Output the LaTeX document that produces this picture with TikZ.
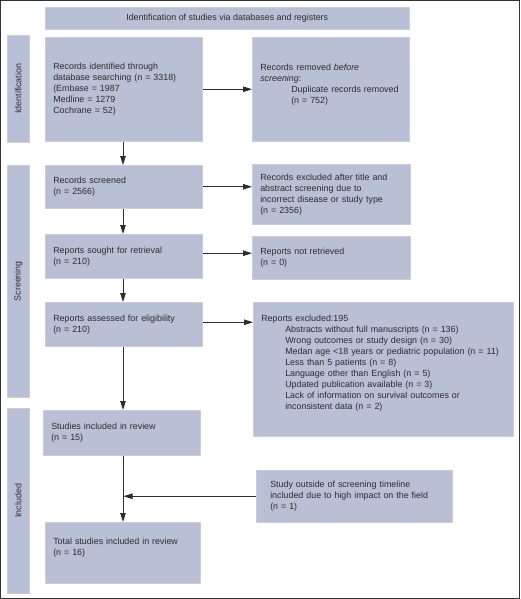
\documentclass[tikz,border=0pt]{standalone}
\usepackage{fontspec}
\setmainfont{Liberation Sans}
\usetikzlibrary{arrows.meta}
\definecolor{boxfill}{RGB}{185,192,214}
\definecolor{boxedge}{RGB}{200,206,224}
\definecolor{ink}{RGB}{45,45,45}
\definecolor{frame}{RGB}{50,50,50}
\tikzset{
  box/.style={fill=boxfill, draw=boxedge, line width=0.5pt, anchor=north west,
    inner xsep=8pt, inner ysep=0pt, align=left, text=ink,
    font=\fontsize{8.9}{11}\selectfont},
  sidebar/.style={fill=boxfill, draw=boxedge, line width=0.5pt, anchor=north west,
    inner sep=0pt, text=ink, font=\fontsize{8.9}{11}\selectfont},
  arr/.style={draw=ink, line width=0.8pt, -{Triangle[length=9pt,width=5.5pt]}},
}
\newcommand{\bx}[6]{% name, x, y, w, h, text
  \node[box, minimum width=#4pt, minimum height=#5pt, text width=#4pt-16pt] (#1) at (#2,#3) {#6};}
\begin{document}
\begin{tikzpicture}[x=1pt,y=-1pt]
\useasboundingbox (0,0) rectangle (520,599);
\draw[frame, line width=1.2pt] (0.6,0.6) rectangle (519.4,598.4);

% header
\node[sidebar, minimum width=364pt, minimum height=22pt] (head) at (45,7)
  {Identification of studies via databases and registers};

% side bars
\node[sidebar, minimum width=22pt, minimum height=107pt] (sideA) at (7,35)
  {\rotatebox{90}{Identification}};
\node[sidebar, minimum width=22pt, minimum height=232pt] (sideB) at (7,165)
  {\rotatebox{90}{Screening}};
\node[sidebar, minimum width=22pt, minimum height=185pt] (sideC) at (7,408)
  {\rotatebox{90}{Included}};

% boxes
\bx{ident}{45}{37}{157}{104}{Records identified through\\database searching (n = 3318)\\(Embase = 1987\\Medline = 1279\\Cochrane = 52)}
\bx{removed}{252}{37}{157}{104}{Records removed \textit{before}\\\textit{screening}:\\\hspace*{31pt}Duplicate records removed\\\hspace*{31pt}(n = 752)\\\mbox{}}
\bx{screened}{45}{165}{157}{43}{Records screened\\(n = 2566)}
\bx{excl1}{252}{164}{158}{60}{Records excluded after title and\\abstract screening due to\\incorrect disease or study type\\(n = 2356)}
\bx{sought}{45}{234}{157}{44}{Reports sought for retrieval\\(n = 210)}
\bx{notret}{252}{236}{158}{43}{Reports not retrieved\\(n = 0)}
\bx{assessed}{45}{302}{157}{44}{Reports assessed for eligibility\\(n = 210)}
\bx{excl2}{253}{302}{260}{134}{Reports excluded:195\\
\hspace*{24pt}Abstracts without full manuscripts (n = 136)\\
\hspace*{24pt}Wrong outcomes or study design (n = 30)\\
\hspace*{24pt}Medan age <18 years or pediatric population (n = 11)\\
\hspace*{24pt}Less than 5 patients (n = 8)\\
\hspace*{24pt}Language other than English (n = 5)\\
\hspace*{24pt}Updated publication available (n = 3)\\
\hspace*{24pt}Lack of information on survival outcomes or\\
\hspace*{24pt}inconsistent data (n = 2)\\[3pt]\mbox{}}
\bx{incl}{43}{410}{157}{45}{Studies included in review\\(n = 15)}
\bx{outside}{256}{470}{196}{52}{\hspace*{6pt}Study outside of screening timeline\\\hspace*{6pt}included due to high impact on the field\\\hspace*{6pt}(n = 1)}
\bx{total}{45}{522}{155}{61}{Total studies included in review\\(n = 16)\\\mbox{}}

% connectors
\coordinate (cx) at (123,0);
\draw[arr] (ident.east) -- (ident.east -| removed.west);
\draw[arr] (ident.south -| cx) -- (screened.north -| cx);
\draw[arr] (screened.east) -- (screened.east -| excl1.west);
\draw[arr] (screened.south -| cx) -- (sought.north -| cx);
\draw[arr] ([yshift=3pt]sought.east) -- ([yshift=3pt]sought.east -| notret.west);
\draw[arr] (sought.south -| cx) -- (assessed.north -| cx);
\draw[arr] ([yshift=2pt]assessed.east) -- ([yshift=2pt]assessed.east -| excl2.west);
\draw[arr] (assessed.south -| cx) -- (incl.north -| cx);
\draw[arr] (incl.south -| cx) -- (total.north -| cx);
\coordinate (join) at (outside.west -| cx);
\draw[arr] (outside.west) -- ([xshift=0.5pt]join);
\end{tikzpicture}
\end{document}
